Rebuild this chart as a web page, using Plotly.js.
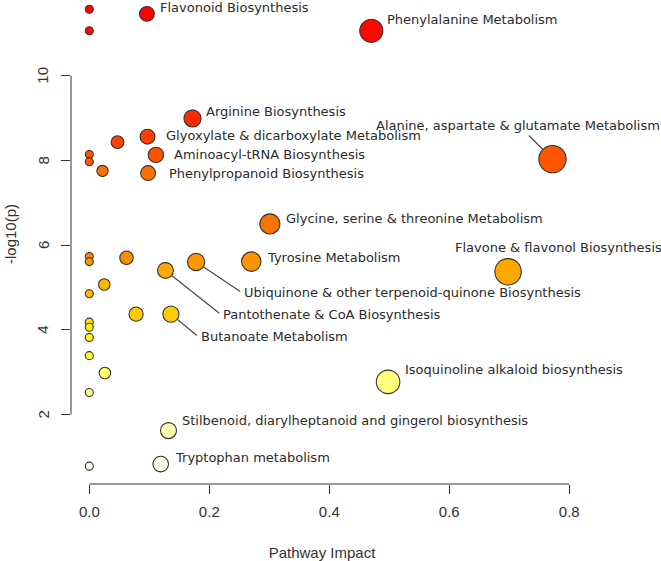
<!DOCTYPE html>
<html>
<head>
<meta charset="utf-8">
<script src="https://cdn.plot.ly/plotly-3.0.1.min.js"></script>
<style>html,body{margin:0;padding:0;background:#fff;}#chart{width:661px;height:561px;}</style>
</head>
<body>
<div id="chart"></div>
<script>
// ---- data ----
const impact = [0, 0, 0.096, 0.470, 0.172, 0.097, 0.047, 0, 0, 0.111, 0.022, 0.098, 0.772,
  0.301, 0, 0.062, 0.270, 0, 0.178, 0.127, 0.698, 0.025, 0, 0.078, 0.136, 0, 0, 0, 0, 0.026,
  0.498, 0, 0.132, 0.119, 0];
const logP = [11.57, 11.06, 11.46, 11.06, 8.99, 8.56, 8.43, 8.14, 7.97, 8.13, 7.75, 7.70, 8.03,
  6.50, 5.73, 5.70, 5.61, 5.61, 5.60, 5.40, 5.37, 5.07, 4.85, 4.37, 4.37, 4.18, 4.06, 3.82, 3.39, 2.98,
  2.77, 2.52, 1.62, 0.83, 0.78];
const pathway = ["", "", "Flavonoid Biosynthesis", "Phenylalanine Metabolism", "Arginine Biosynthesis",
  "Glyoxylate & dicarboxylate Metabolism", "", "", "", "Aminoacyl-tRNA Biosynthesis", "",
  "Phenylpropanoid Biosynthesis", "Alanine, aspartate & glutamate Metabolism",
  "Glycine, serine & threonine Metabolism", "", "", "Tyrosine Metabolism", "",
  "Ubiquinone & other terpenoid-quinone Biosynthesis", "Pantothenate & CoA Biosynthesis",
  "Flavone & flavonol Biosynthesis", "", "", "", "Butanoate Metabolism", "", "", "", "", "",
  "Isoquinoline alkaloid biosynthesis", "", "Stilbenoid, diarylheptanoid and gingerol biosynthesis",
  "Tryptophan metabolism", ""];
const xTickVals = [0, 0.2, 0.4, 0.6, 0.8];
const xTickText = ["0.0", "0.2", "0.4", "0.6", "0.8"];
const yTickVals = [2, 4, 6, 8, 10];
const yTickText = ["2", "4", "6", "8", "10"];
const xTitle = "Pathway Impact";
const yTitle = "-log10(p)";

// ---- styling ----
// colour ramp (heat colours) along -log10(p)
const heatStops = [[0.78, "#FFFFE8"], [1.62, "#FFFFB2"], [2.52, "#FFFF8A"], [2.98, "#FFFF70"],
  [3.39, "#FFFF40"], [3.82, "#FFFA14"], [4.06, "#FFEE00"], [4.37, "#FFCC00"], [5.40, "#FFA800"],
  [5.70, "#FA8C00"], [6.50, "#F87400"], [7.70, "#FF7000"], [8.03, "#FF5500"], [8.99, "#FF2A00"],
  [11.57, "#FF0000"]];
const cmin = heatStops[0][0], cmax = heatStops[heatStops.length - 1][0];
const colorscale = heatStops.map(s => [(s[0] - cmin) / (cmax - cmin), s[1]]);
const sizes = impact.map(v => 8 + 22 * Math.sqrt(v));

// label placement: pixel offsets of text (left edge / centre) from the bubble
const labelStyle = {
  "Flavonoid Biosynthesis": {dx: 10.6, dy: -6},
  "Phenylalanine Metabolism": {dx: 14, dy: -11},
  "Arginine Biosynthesis": {dx: 11.7, dy: -7},
  "Glyoxylate & dicarboxylate Metabolism": {dx: 16.6, dy: -1.5},
  "Aminoacyl-tRNA Biosynthesis": {dx: 16, dy: 0},
  "Phenylpropanoid Biosynthesis": {dx: 19, dy: 0},
  "Alanine, aspartate & glutamate Metabolism": {arrow: true, anchor: "center", dx: -34, dy: -34},
  "Glycine, serine & threonine Metabolism": {dx: 14, dy: -5.7},
  "Tyrosine Metabolism": {dx: 14, dy: -4.4},
  "Ubiquinone & other terpenoid-quinone Biosynthesis": {arrow: true, anchor: "left", dx: 45.7, dy: 30.7},
  "Pantothenate & CoA Biosynthesis": {arrow: true, anchor: "left", dx: 55.4, dy: 44},
  "Flavone & flavonol Biosynthesis": {dx: -55, dy: -24.4},
  "Butanoate Metabolism": {arrow: true, anchor: "left", dx: 27.6, dy: 22.7},
  "Isoquinoline alkaloid biosynthesis": {dx: 15, dy: -12.4},
  "Stilbenoid, diarylheptanoid and gingerol biosynthesis": {dx: 11.7, dy: -10},
  "Tryptophan metabolism": {dx: 12, dy: -6.7}
};
const labelFont = {family: "DejaVu Sans, Open Sans, sans-serif", size: 13, color: "#2b2b2b"};
const tickFont = {family: "Liberation Sans, Arial, sans-serif", size: 15, color: "#333"};
const titleFont = {family: "Liberation Sans, Arial, sans-serif", size: 15, color: "#333"};

const annotations = [];
pathway.forEach((name, i) => {
  if (!name) return;
  const st = labelStyle[name];
  if (st.arrow) {
    annotations.push({
      x: impact[i], y: logP[i], xref: "x", yref: "y", text: name, showarrow: true,
      ax: st.dx, ay: st.dy, axref: "pixel", ayref: "pixel",
      xanchor: st.anchor, yanchor: "middle", arrowhead: 0, arrowwidth: 1.2,
      arrowcolor: "#4a4a4a", standoff: sizes[i] / 2, startstandoff: 2, font: labelFont
    });
  } else {
    annotations.push({
      x: impact[i], y: logP[i], xref: "x", yref: "y", text: name, showarrow: false,
      xanchor: "left", yanchor: "middle", xshift: st.dx, yshift: -st.dy, font: labelFont
    });
  }
});
// rotated y tick labels (R style, las = 0), placed at the y tick values
yTickVals.forEach((v, i) => {
  annotations.push({
    xref: "paper", yref: "y", x: 0, y: v, xshift: -28, text: yTickText[i], textangle: -90,
    showarrow: false, xanchor: "center", yanchor: "middle", font: tickFont
  });
});
// y-axis title
annotations.push({
  xref: "paper", yref: "paper", x: 0, y: 0.5, xshift: -61, yshift: 8,
  text: yTitle, textangle: -90, showarrow: false, xanchor: "center", yanchor: "middle",
  font: titleFont
});

const trace = {
  type: "scatter", mode: "markers", x: impact, y: logP, cliponaxis: false,
  hoverinfo: "skip",
  marker: {
    size: sizes, color: logP, colorscale: colorscale, cmin: cmin, cmax: cmax,
    showscale: false, opacity: 1,
    line: {color: "#333333", width: 1.1}
  }
};

const layout = {
  width: 661, height: 561,
  margin: {l: 71, r: 88, t: 0, b: 77, pad: 0},
  paper_bgcolor: "#fff", plot_bgcolor: "#fff",
  showlegend: false,
  xaxis: {
    range: [-0.0305, 0.8062], showgrid: false, zeroline: false, showline: false,
    tickmode: "array", tickvals: xTickVals, ticktext: xTickText,
    ticks: "outside", ticklen: 9, tickwidth: 1, tickcolor: "#333",
    tickfont: tickFont, ticklabelstandoff: 5,
    title: {text: xTitle, font: titleFont, standoff: 29}
  },
  yaxis: {
    range: [0.359, 11.787], showgrid: false, zeroline: false, showline: false,
    tickmode: "array", tickvals: yTickVals, ticktext: yTickText,
    ticks: "outside", ticklen: 9, tickwidth: 1, tickcolor: "#333",
    showticklabels: false
  },
  shapes: [
    {type: "line", xref: "x", yref: "paper", x0: xTickVals[0], x1: xTickVals[xTickVals.length - 1], y0: 0, y1: 0,
     line: {color: "#333", width: 1}},
    {type: "line", xref: "paper", yref: "y", x0: 0, x1: 0, y0: yTickVals[0], y1: yTickVals[yTickVals.length - 1],
     line: {color: "#333", width: 1}}
  ],
  annotations: annotations
};

Plotly.newPlot("chart", [trace], layout, {displayModeBar: false, staticPlot: true});
</script>
</body>
</html>
